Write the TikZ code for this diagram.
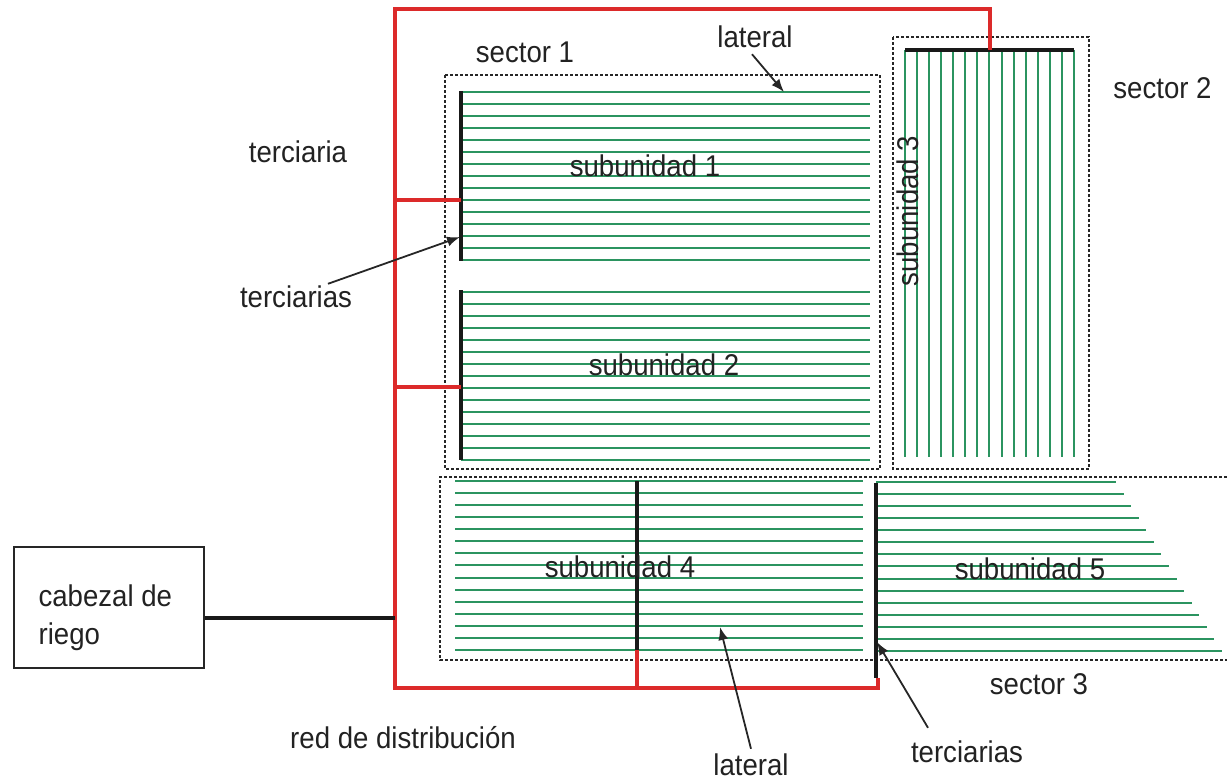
\documentclass[tikz,border=0pt]{standalone}
\usepackage{fontspec}
\setmainfont[FakeStretch=0.92]{Liberation Sans}
\usepackage{xcolor}
\usetikzlibrary{calc, positioning, arrows.meta}

\definecolor{redPipe}{HTML}{DC2A2A}
\definecolor{greenLat}{HTML}{2B9460}
\definecolor{darkText}{HTML}{222222}

\tikzset{
    lbl/.style={font=\fontsize{30}{35}\selectfont, text=darkText, inner sep=0pt},
    lateralLine/.style={draw=greenLat, line width=2.5pt},
    terciariaLine/.style={draw=black!90, line width=4pt},
    redLine/.style={draw=redPipe, line width=4pt},
    sectorBox/.style={draw=black!85, line width=1.8pt, dash pattern=on 3pt off 2pt},
    callout/.style={-{Latex[length=13pt,width=10pt]}, draw=black!85, line width=1.8pt}
}

\begin{document}
\begin{tikzpicture}[>=latex, x=1pt, y=-1pt]
    \useasboundingbox (0,0) rectangle (1227,782);

    % Sectores
    \draw[sectorBox] (445,75) rectangle (880,469);
    \draw[sectorBox] (893,37) rectangle (1089,469);
    \draw[sectorBox] (1227,477) -- (440,477) -- (440,660) -- (1227,660);

    % Laterales
    \foreach \i in {0,...,14} {
        \draw[lateralLine] (461,{92+12*\i}) -- (870,{92+12*\i});
        \draw[lateralLine] (461,{round(292+12*\i)}) -- (870,{round(292+12*\i)});
        \draw[lateralLine] ({round(905+12.07*\i)},50) -- ({round(905+12.07*\i)},457);
        \draw[lateralLine] (455,{round(481+12.07*\i)}) -- (863,{round(481+12.07*\i)});
        \draw[lateralLine] (876,{round(482+12.07*\i)}) -- ({1116+7.57*\i},{round(482+12.07*\i)});
    }

    % Terciarias
    \draw[terciariaLine] (461,91) -- (461,261);
    \draw[terciariaLine] (461,290) -- (461,460);
    \draw[terciariaLine] (905,50) -- (1074,50);
    \draw[terciariaLine] (637,481) -- (637,650);
    \draw[terciariaLine] (876,483) -- (876,678);

    % Red de distribución
    \draw[redLine] (990,50) -- (990,8.5) -- (395,8.5) -- (395,688) -- (877.5,688) -- (877.5,678);
    \draw[redLine] (395,200) -- (461,200);
    \draw[redLine] (395,387) -- (461,387);
    \draw[redLine] (637,688) -- (637,650);

    % Cabezal
    \node[draw=black!85, line width=1.2pt, minimum width=190pt, minimum height=121pt, inner sep=0pt]
        (cabezal) at (109,607.5) {};
    \node[lbl, right=25pt of cabezal.west, align=left, yshift=-10pt] (cabezalText)
        {cabezal de\\[3pt]riego};
    \coordinate (toma) at (395,618);
    \draw[terciariaLine] (cabezal.east |- toma) -- (toma);

    % Textos
    \node[lbl] (sectorA) at (525,52) {sector 1};
    \node[lbl] (sectorB) at (1162.5,88) {sector 2};
    \node[lbl] (sectorC) at (1039,684) {sector 3};
    \node[lbl] (subA) at (645,166) {subunidad 1};
    \node[lbl] (subB) at (664,365) {subunidad 2};
    \node[lbl, rotate=90] (subC) at (908,211) {subunidad 3};
    \node[lbl] (subD) at (620,567) {subunidad 4};
    \node[lbl] (subE) at (1030,569) {subunidad 5};
    \node[lbl] (terciaria) at (298,152) {terciaria};
    \node[lbl] (terciariasA) at (296,297) {terciarias};
    \node[lbl] (terciariasB) at (967,752) {terciarias};
    \node[lbl] (lateralA) at (755,37) {lateral};
    \node[lbl] (lateralB) at (751,765) {lateral};
    \node[lbl] (red) at (403,738) {red de distribución};

    % Flechas
    \coordinate (tipLateralA) at (784,92);
    \coordinate (tipLateralB) at (720,627);
    \coordinate (tipTerciariasA) at (460,237);
    \coordinate (tipTerciariasB) at (877,642);
    \draw[callout] (lateralA.south) ++(-3,6) -- (tipLateralA);
    \draw[callout] (lateralB.north) ++(0,-5) -- (tipLateralB);
    \draw[callout] (terciariasA.north) ++(32,-2) -- (tipTerciariasA);
    \draw[callout] (terciariasB.north) ++(-39,-13) -- (tipTerciariasB);
\end{tikzpicture}
\end{document}
